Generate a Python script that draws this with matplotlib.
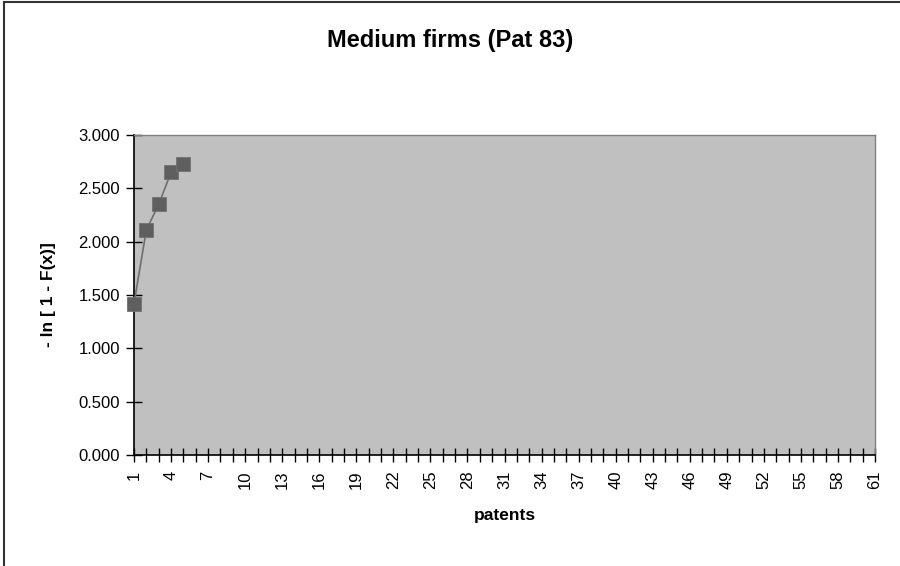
import matplotlib
matplotlib.use("Agg")
import matplotlib.pyplot as plt
from matplotlib.lines import Line2D

plt.rcParams["font.family"] = ["Liberation Sans", "DejaVu Sans"]

# data
patents = [1, 2, 3, 4, 5]
neg_log_survival = [1.42, 2.11, 2.35, 2.65, 2.73]
x_categories = list(range(1, 62))
x_tick_labels = [str(v) for v in x_categories[::3]]
y_ticks = [0.0, 0.5, 1.0, 1.5, 2.0, 2.5, 3.0]

PLOT_BG = "#C0C0C0"
MARK = "#5F5F5F"

fig = plt.figure(figsize=(9.0, 5.66), dpi=100)
ax = fig.add_axes((134 / 900, 1 - 455 / 566, 741 / 900, 320 / 566))
ax.set_facecolor(PLOT_BG)

ax.plot(patents, neg_log_survival, "-", color="#6E6E6E", linewidth=1.2, zorder=3)
ax.plot(patents, neg_log_survival, "s", color=MARK, markersize=9.5,
        markeredgecolor="#707070", markeredgewidth=0.6, zorder=4,
        clip_on=False, linestyle="none")

ax.set_xlim(x_categories[0], x_categories[-1])
ax.set_ylim(0, 3.0)
ax.set_xticks(x_categories, minor=True)
ax.set_xticks(x_categories[::3])
ax.set_xticklabels(x_tick_labels, rotation=90, fontsize=12)
ax.set_yticks(y_ticks)
ax.set_yticklabels([f"{v:.3f}" for v in y_ticks], fontsize=12)

ax.tick_params(axis="x", which="both", direction="inout", length=10, width=1,
               pad=6)
ax.tick_params(axis="y", direction="inout", length=12, width=1, pad=4)

for side in ("top", "right"):
    ax.spines[side].set_color("#808080")
    ax.spines[side].set_linewidth(1)
for side in ("left", "bottom"):
    ax.spines[side].set_color("black")
    ax.spines[side].set_linewidth(1.2)

ax.set_xlabel("patents", fontsize=12.5, fontweight="bold", labelpad=14)
ax.set_ylabel("- ln [ 1 - F(x)]", fontsize=12.5, fontweight="bold", labelpad=16)
fig.text(0.5, 1 - 41 / 566, "Medium firms (Pat 83)", ha="center", va="center",
         fontsize=17, fontweight="bold")

# chart area border (only top and left visible in the reference crop)
fig.add_artist(Line2D([4 / 900, 4 / 900], [0, 1 - 2 / 566],
                      transform=fig.transFigure, color="#333333", linewidth=1.5))
fig.add_artist(Line2D([4 / 900, 1], [1 - 2 / 566, 1 - 2 / 566],
                      transform=fig.transFigure, color="#333333", linewidth=1.5))

fig.savefig("out.png", dpi=100, facecolor="white")
plt.close(fig)
